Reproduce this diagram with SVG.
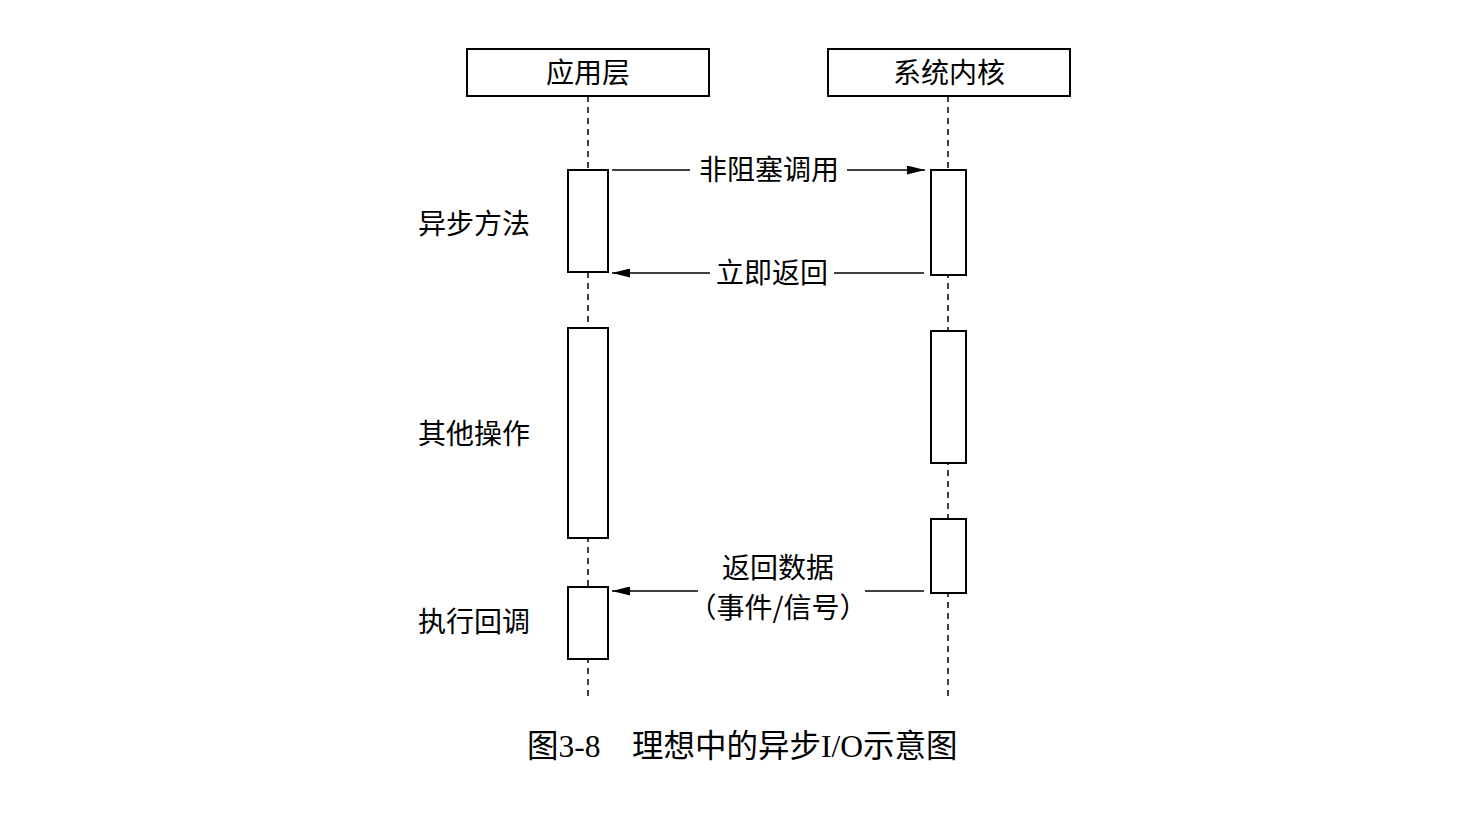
<svg xmlns="http://www.w3.org/2000/svg" width="1468" height="816" viewBox="0 0 1468 816">
<defs>
<marker id="ah" markerWidth="18" markerHeight="9" refX="18" refY="4.5" orient="auto" markerUnits="userSpaceOnUse"><path d="M0,0 L18,4.5 L0,9 Z" fill="#000"/></marker>
</defs>
<style>
.box{fill:#fff;stroke:#000;stroke-width:2}
.life{stroke:#000;stroke-width:1.5;stroke-dasharray:6,5;fill:none}
.msg{stroke:#000;stroke-width:1.5;fill:none}
text{font-family:"Noto Sans CJK SC","Noto Sans",sans-serif;font-size:28px;fill:#000}
.cap{font-family:"Liberation Serif","Noto Sans CJK SC",serif;font-size:31.5px}
</style>
<rect width="1468" height="816" fill="#fff"/>
<g id="lifelines">
<line class="life" x1="588" y1="96" x2="588" y2="696"/>
<line class="life" x1="948" y1="96" x2="948" y2="696"/>
</g>
<g id="app">
<rect class="box" x="467" y="49" width="242" height="47"/>
<text x="588" y="83" text-anchor="middle">应用层</text>
</g>
<g id="kernel">
<rect class="box" x="828" y="49" width="242" height="47"/>
<text x="949" y="83" text-anchor="middle">系统内核</text>
</g>
<g id="app-act1"><rect class="box" x="568" y="170" width="40" height="102"/></g>
<g id="app-act2"><rect class="box" x="568" y="328" width="40" height="210"/></g>
<g id="app-act3"><rect class="box" x="568" y="587" width="40" height="72"/></g>
<g id="ker-act1"><rect class="box" x="931" y="170" width="35" height="105"/></g>
<g id="ker-act2"><rect class="box" x="931" y="331" width="35" height="132"/></g>
<g id="ker-act3"><rect class="box" x="931" y="519" width="35" height="74"/></g>
<g id="labels">
<text x="418" y="234">异步方法</text>
<text x="418" y="444">其他操作</text>
<text x="418" y="632">执行回调</text>
</g>
<g id="connectors">
<line class="msg" x1="612" y1="170" x2="690" y2="170"/>
<line class="msg" x1="847" y1="170" x2="925" y2="170" marker-end="url(#ah)"/>
<text x="769" y="180" text-anchor="middle">非阻塞调用</text>
<line class="msg" x1="924" y1="273" x2="834" y2="273"/>
<line class="msg" x1="710" y1="273" x2="612" y2="273" marker-end="url(#ah)"/>
<text x="772" y="283" text-anchor="middle">立即返回</text>
<line class="msg" x1="924" y1="591" x2="865" y2="591"/>
<line class="msg" x1="698" y1="591" x2="612" y2="591" marker-end="url(#ah)"/>
<text x="778" y="578" text-anchor="middle">返回数据</text>
<text x="778" y="618" text-anchor="middle">（事件/信号）</text>
</g>
<g id="caption">
<text class="cap" x="527" y="757">图3-8　理想中的异步I/O示意图</text>
</g>
</svg>
